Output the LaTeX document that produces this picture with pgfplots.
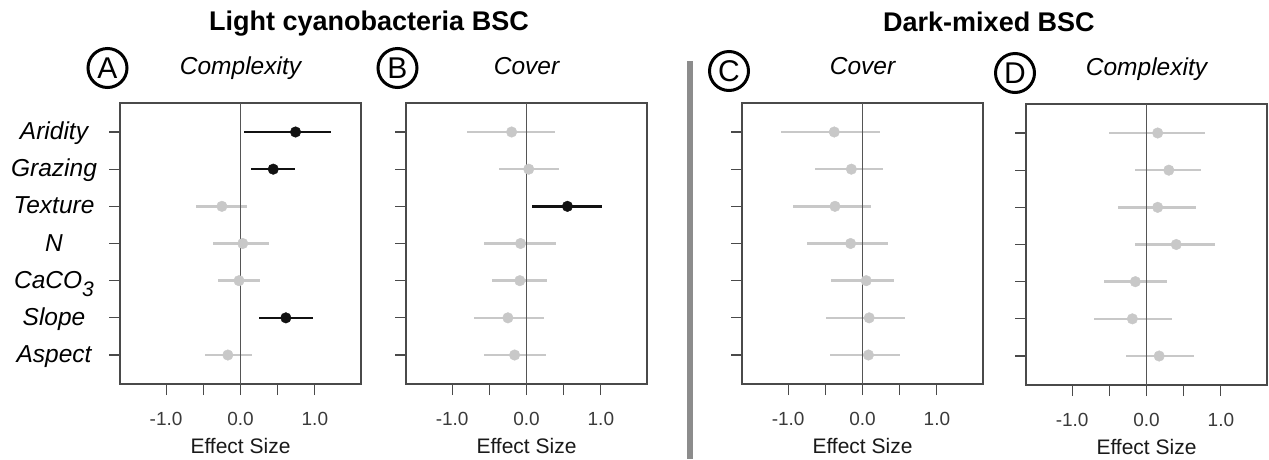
\documentclass[border=0pt]{standalone}
\usepackage{fontspec}
\setmainfont{Liberation Sans}
\setsansfont{Liberation Sans}
\usepackage{pgfplots}
\usepackage{pgfplotstable}
\pgfplotsset{compat=1.18}
\definecolor{ptgray}{HTML}{C8C8C8}
\definecolor{ptblack}{HTML}{111111}
\definecolor{boxcol}{HTML}{4A4A4A}
\definecolor{zerocol}{HTML}{555555}
\definecolor{sepcol}{HTML}{8C8C8C}
\definecolor{tickcol}{HTML}{3A3A3A}

\pgfplotstableread{
y m lo hi
5 -0.25 -0.60 0.09
4 0.03 -0.37 0.38
3 -0.02 -0.30 0.26
1 -0.17 -0.48 0.16
}\Agray
\pgfplotstableread{
y m lo hi
7 0.74 0.05 1.22
6 0.44 0.14 0.73
2 0.61 0.25 0.97
}\Ablack
\pgfplotstableread{
y m lo hi
7 -0.20 -0.80 0.38
6 0.03 -0.37 0.44
4 -0.08 -0.57 0.40
3 -0.09 -0.47 0.28
2 -0.25 -0.70 0.23
1 -0.16 -0.57 0.26
}\Bgray
\pgfplotstableread{
y m lo hi
5 0.55 0.08 1.01
}\Bblack
\pgfplotstableread{
y m lo hi
7 -0.38 -1.09 0.23
6 -0.15 -0.64 0.27
5 -0.37 -0.94 0.11
4 -0.16 -0.75 0.34
3 0.05 -0.42 0.42
2 0.09 -0.49 0.57
1 0.08 -0.44 0.51
}\Cgray
\pgfplotstableread{
y m lo hi
7 0.15 -0.50 0.78
6 0.30 -0.16 0.73
5 0.15 -0.38 0.66
4 0.40 -0.16 0.92
3 -0.15 -0.57 0.27
2 -0.19 -0.70 0.34
1 0.17 -0.28 0.64
}\Dgray

\pgfplotsset{
  panel/.style={
    scale only axis, width=241pt, height=281pt,
    xmin=-1.62, xmax=1.62, ymin=0.22, ymax=7.78,
    xtick={-1,-0.5,0,0.5,1}, xticklabels={-1.0,,0.0,,1.0},
    ytick={1,2,3,4,5,6,7}, yticklabels={},
    tick align=outside, tick pos=left, major tick length=11pt,
    axis line style={draw=boxcol, line width=1.2pt},
    every tick/.style={draw=boxcol, line width=1.2pt},
    /pgf/number format/assume math mode=true,
    xticklabel style={font=\fontsize{19}{19}\selectfont, text=tickcol, anchor=base, yshift=-30pt},
    xlabel={Effect Size},
    xlabel style={at={(axis description cs:0.5,0)}, anchor=base, yshift=-69pt, font=\fontsize{21}{21}\selectfont, text=black!90},
    title style={at={(axis description cs:0.5,1)}, anchor=base, yshift=23pt, font=\fontsize{24.5}{24.5}\selectfont\itshape},
  },
  gpts/.style={only marks, mark=*, mark size=5.3pt, color=ptgray,
    error bars/.cd, x dir=both, x explicit, error mark=none,
    error bar style={line width=2.6pt, color=ptgray}},
  bpts/.style={only marks, mark=*, mark size=5.3pt, color=ptblack,
    error bars/.cd, x dir=both, x explicit, error mark=none,
    error bar style={line width=2.6pt, color=ptblack}},
  /pgfplots/table/ci/.style={x=m, y=y,
    x error plus expr={\thisrow{hi}-\thisrow{m}},
    x error minus expr={\thisrow{m}-\thisrow{lo}}},
}
\newcommand{\zeroline}{\draw[zerocol, line width=1pt] (axis cs:0,0.22) -- (axis cs:0,7.78);}

\begin{document}
\begin{tikzpicture}
\useasboundingbox (0pt,0pt) rectangle (1269pt,-459pt);

% group titles
\node[anchor=base] at (369pt,-30pt) {\fontsize{27}{27}\selectfont\bfseries Light cyanobacteria BSC};
\node[anchor=base] at (989pt,-31pt) {\fontsize{27}{27}\selectfont\bfseries Dark-mixed BSC};

% separator
\fill[sepcol] (687pt,-61pt) rectangle (693pt,-459pt);

% circled letters
\foreach \lx/\ly/\lt in {107.5/68/A, 397.5/68/B, 729/71/C, 1015/73/D}{
  \node[circle, draw=black, line width=3pt, minimum size=39pt, inner sep=0pt] at (\lx pt,-\ly pt) {\fontsize{30}{30}\selectfont\lt};
}

% Panel A
\begin{axis}[panel, at={(120pt,-103pt)}, anchor=north west,
  title={Complexity},
  yticklabels={Aspect,Slope,CaCO\raisebox{-0.32em}{\fontsize{21}{21}\selectfont 3},N,Texture,Grazing,Aridity},
  yticklabel style={font=\fontsize{24.5}{24.5}\selectfont\itshape, anchor=base, xshift=-55pt, yshift=-7.5pt}]
\addplot[gpts] table[ci] {\Agray};
\addplot[bpts] table[ci] {\Ablack};
\zeroline
\end{axis}

% Panel B
\begin{axis}[panel, at={(406pt,-103pt)}, anchor=north west, title={Cover}]
\addplot[gpts] table[ci] {\Bgray};
\addplot[bpts] table[ci] {\Bblack};
\zeroline
\end{axis}

% Panel C
\begin{axis}[panel, at={(742pt,-103pt)}, anchor=north west, title={Cover}]
\addplot[gpts] table[ci] {\Cgray};
\zeroline
\end{axis}

% Panel D
\begin{axis}[panel, at={(1026pt,-104pt)}, anchor=north west, title={Complexity}]
\addplot[gpts] table[ci] {\Dgray};
\zeroline
\end{axis}
\end{tikzpicture}
\end{document}
